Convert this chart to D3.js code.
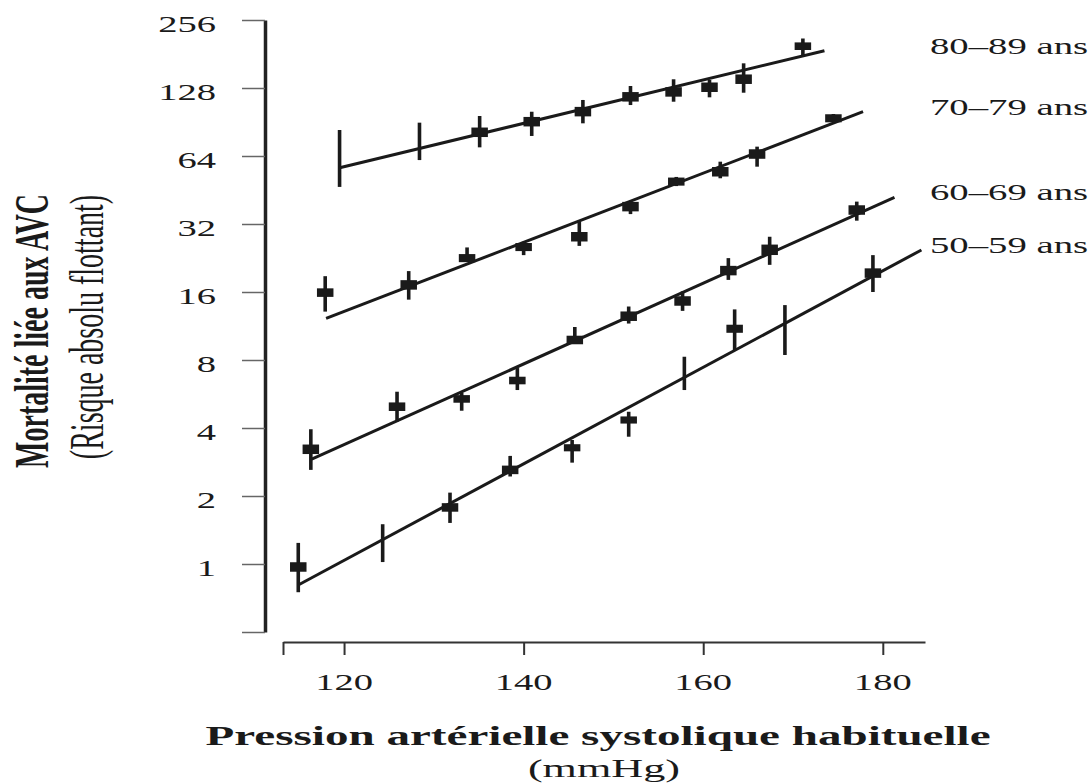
<!DOCTYPE html>
<html lang="fr">
<head>
<meta charset="utf-8">
<script src="https://cdn.jsdelivr.net/npm/d3@7"></script>
<style>
  body { margin: 0; background: #fff; }
  text { font-family: "Liberation Serif", "Times New Roman", serif; fill: #1a1a1a; }
</style>
</head>
<body>
<div id="chart"></div>
<script>
// tranches d'âge
const tranches = ["50–59 ans", "60–69 ans", "70–79 ans", "80–89 ans"];

// pression systolique habituelle (mmHg) de chaque point
const pas5059 = [114.9, 124.3, 131.8, 138.5, 145.4, 151.7, 157.9, 163.5, 169.1, 178.9];
const pas6069 = [116.3, 125.9, 133.1, 139.3, 145.7, 151.7, 157.7, 162.8, 167.4, 177.1];
const pas7079 = [117.9, 127.2, 133.7, 140.0, 146.2, 151.9, 157.0, 161.9, 166.0, 174.5];
const pas8089 = [119.5, 128.4, 135.1, 140.9, 146.6, 151.9, 156.7, 160.7, 164.5, 171.1];

// risque absolu flottant (point central)
const risque5059 = [0.97, 1.25, 1.78, 2.61, 3.27, 4.34, 7.0, 11.0, 11.7, 19.4];
const risque6069 = [3.22, 4.97, 5.38, 6.49, 9.81, 12.5, 14.6, 19.9, 24.6, 36.9];
const risque7079 = [15.9, 17.2, 22.6, 25.3, 28.1, 38.2, 49.3, 54.5, 65.3, 94.0];
const risque8089 = [62.4, 74.3, 81.5, 90.8, 100.6, 117, 123, 129, 140, 196];

// bornes des intervalles de confiance
const bas5059 = [0.75, 1.02, 1.52, 2.44, 2.81, 3.66, 5.89, 8.86, 8.42, 16.0];
const haut5059 = [1.24, 1.50, 2.07, 3.01, 3.54, 4.72, 8.27, 13.4, 14.0, 23.3];
const bas6069 = [2.61, 4.27, 4.77, 5.89, 9.51, 11.6, 13.2, 18.1, 21.1, 33.1];
const haut6069 = [3.95, 5.79, 5.72, 7.37, 11.2, 13.8, 16.1, 22.6, 28.1, 40.2];
const bas7079 = [13.1, 14.8, 21.8, 23.3, 25.6, 35.4, 47.1, 51.0, 57.4, 90.5];
const haut7079 = [18.8, 19.8, 25.2, 26.7, 32.8, 40.2, 51.7, 60.4, 70.4, 98.2];
const bas8089 = [46.7, 61.4, 69.9, 78.5, 89.3, 107.6, 111.3, 116.4, 122, 177];
const haut8089 = [83.4, 89.9, 96.2, 100.5, 113.3, 130.6, 139.9, 138.9, 164.6, 212];

// poids relatif de chaque point (taille du carré)
const poids5059 = [1, 0, 0.9, 0.9, 0.75, 0.75, 0, 0.85, 0, 1];
const poids6069 = [1, 0.9, 0.8, 0.8, 0.9, 1, 1, 1, 1.1, 1];
const poids7079 = [0.9, 1, 0.85, 0.85, 1, 1, 0.85, 1, 1, 0.85];
const poids8089 = [0, 0, 1, 1, 1, 1, 1, 1, 1, 0.8];

// droites ajustées : [pas début, pas fin] et [risque début, risque fin]
const droitePas = [[114.9, 184.3], [116.4, 181.3], [118.0, 177.8], [119.4, 173.5]];
const droiteRisque = [[0.807, 24.55], [2.91, 42.0], [12.24, 100.6], [56.6, 187.2]];

const ticksX = [120, 140, 160, 180];
const ticksY = [0.5, 1, 2, 4, 8, 16, 32, 64, 128, 256];

const width = 1092, height = 783;
const SX = 1.7; // étirement horizontal du texte

const svg = d3.select("#chart").append("svg")
    .attr("width", width)
    .attr("height", height);

const x = d3.scaleLinear().domain([113.2, 184.7]).range([283, 925]);
const y = d3.scaleLog().base(2).domain([0.5, 256]).range([632, 20]);
const hauteur = d3.scaleLinear().domain([0, 1]).range([0, 9.5]);

const groupes = [
    { nom: tranches[0], pas: pas5059, risque: risque5059, bas: bas5059, haut: haut5059, poids: poids5059 },
    { nom: tranches[1], pas: pas6069, risque: risque6069, bas: bas6069, haut: haut6069, poids: poids6069 },
    { nom: tranches[2], pas: pas7079, risque: risque7079, bas: bas7079, haut: haut7079, poids: poids7079 },
    { nom: tranches[3], pas: pas8089, risque: risque8089, bas: bas8089, haut: haut8089, poids: poids8089 }
].map((g, i) => ({
    ...g,
    points: g.pas.map((p, j) => ({ pas: p, risque: g.risque[j], bas: g.bas[j], haut: g.haut[j], poids: g.poids[j] })),
    droite: [[droitePas[i][0], droiteRisque[i][0]], [droitePas[i][1], droiteRisque[i][1]]]
}));

function texte(str, tx, ty, size, anchor, bold, rot) {
    return svg.append("text")
        .attr("transform", `translate(${tx},${ty}) scale(${SX},1)` + (rot ? " rotate(-90)" : ""))
        .attr("text-anchor", anchor)
        .style("font-size", size + "px")
        .style("font-weight", bold ? "bold" : "normal")
        .text(str);
}

// axe x
const gx = svg.append("g")
    .attr("transform", "translate(0,642)")
    .call(d3.axisBottom(x)
        .tickValues([x.domain()[0]].concat(ticksX))
        .tickSize(13)
        .tickSizeOuter(0)
        .tickFormat(""));
gx.select(".domain").attr("stroke", "#333").attr("stroke-width", 2.2);
gx.selectAll(".tick line").attr("stroke", "#333").attr("stroke-width", 2);

ticksX.forEach(d => texte(d, x(d), 690, 22.7, "middle"));

// axe y
const gy = svg.append("g")
    .attr("transform", "translate(265,0)")
    .call(d3.axisLeft(y)
        .tickValues(ticksY)
        .tickSize(23)
        .tickSizeOuter(0)
        .tickFormat(""));
gy.select(".domain").attr("stroke", "#222").attr("stroke-width", 3.5);
gy.selectAll(".tick line").attr("stroke", "#666").attr("stroke-width", 1.5);

ticksY.filter(d => d >= 1).forEach(d => texte(d, 216, y(d) + 12, 22.7, "end"));

// droites ajustées
const ligne = d3.line().x(d => x(d[0])).y(d => y(d[1]));

const series = svg.selectAll(".serie")
    .data(groupes)
    .enter()
    .append("g")
    .attr("class", "serie");

series.append("path")
    .attr("d", d => ligne(d.droite))
    .attr("fill", "none")
    .attr("stroke", "#1a1a1a")
    .attr("stroke-width", 3);

// intervalles de confiance
series.selectAll(".ic")
    .data(d => d.points)
    .enter()
    .append("line")
    .attr("x1", d => x(d.pas))
    .attr("x2", d => x(d.pas))
    .attr("y1", d => y(d.bas))
    .attr("y2", d => y(d.haut))
    .attr("stroke", "#1a1a1a")
    .attr("stroke-width", 3.6);

// carrés
series.selectAll(".carre")
    .data(d => d.points.filter(p => p.poids > 0))
    .enter()
    .append("rect")
    .attr("x", d => x(d.pas) - 8.25)
    .attr("y", d => y(d.risque) - hauteur(d.poids) / 2)
    .attr("width", 16.5)
    .attr("height", d => hauteur(d.poids))
    .attr("fill", "#1a1a1a");

// étiquettes des tranches d'âge
groupes.forEach(g => texte(g.nom, 930, y(g.droite[1][1]) + 3, 22.8, "start"));

// titres des axes
texte("Mortalité liée aux AVC", 48, 331, 28, "middle", true, true);
texte("(Risque absolu flottant)", 103, 327, 28, "middle", false, true);
texte("Pression artérielle systolique habituelle", 598, 745, 27.7, "middle", true);
texte("(mmHg)", 604, 777, 26, "middle");
</script>
</body>
</html>
